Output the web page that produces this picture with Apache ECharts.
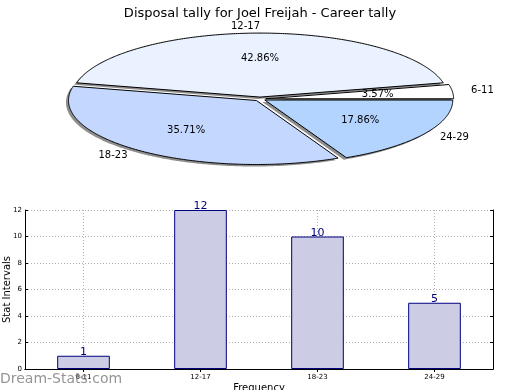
<!DOCTYPE html>
<html>
<head>
<meta charset="utf-8">
<script src="https://cdn.jsdelivr.net/npm/echarts@6/dist/echarts.min.js"></script>
<style>
html,body{margin:0;padding:0;background:#fff;}
#c{width:520px;height:390px;}
</style>
</head>
<body>
<div id="c"></div>
<script>
// ---- data ----
var titleText = 'Disposal tally for Joel Freijah - Career tally';
var categories = ['6-11', '12-17', '18-23', '24-29'];
var counts = [1, 12, 10, 5];
var sliceColors = ['#ffffff', '#eaf1ff', '#c4d8ff', '#b3d4ff'];
var yTicks = [0, 2, 4, 6, 8, 10, 12];
var xAxisTitle = 'Frequency';
var yAxisTitle = 'Stat Intervals';
var watermark = 'Dream-Stats.com';

var FONT = 'DejaVu Sans';
var chart = echarts.init(document.getElementById('c'), null, {renderer: 'canvas'});

var total = counts.reduce(function (a, b) { return a + b; }, 0);
var cum = [0];
for (var i = 0; i < counts.length; i++) cum.push(cum[i] + counts[i]);

// pie layout (elliptical, exploded, shadowed)
var PC = {cx: 260, cy: 99, rx: 188, ry: 64, explode: 0.03};

function ePoint(ox, oy, r, t) {
  return [PC.cx + ox + r * PC.rx * Math.cos(t), PC.cy + oy - r * PC.ry * Math.sin(t)];
}

function renderSlice(params, api) {
  var idx = params.dataIndex;
  var v = api.value(0);
  var a0 = cum[idx] / total * Math.PI * 2;
  var a1 = a0 + v / total * Math.PI * 2;
  var mid = (a0 + a1) / 2;
  var ox = PC.explode * PC.rx * Math.cos(mid);
  var oy = -PC.explode * PC.ry * Math.sin(mid);
  var pts = [[PC.cx + ox, PC.cy + oy]];
  var n = Math.max(8, Math.ceil((a1 - a0) / 0.01));
  for (var k = 0; k <= n; k++) {
    pts.push(ePoint(ox, oy, 1, a0 + (a1 - a0) * k / n));
  }
  var shadowPts = pts.map(function (p) { return [p[0] - 2.5, p[1] + 2]; });
  var namePos = ePoint(ox, oy, 1.1, mid);
  var pctPos = ePoint(ox, oy, 0.6, mid);
  var cosm = Math.cos(mid);
  var align = cosm > 1e-9 ? 'left' : 'right';
  var pct = (v / total * 100).toFixed(2) + '%';
  return {
    type: 'group',
    children: [
      {type: 'polygon', z2: 1, shape: {points: shadowPts},
       style: {fill: 'rgba(50,50,50,0.55)', stroke: null}},
      {type: 'polygon', z2: 10, shape: {points: pts},
       style: {fill: sliceColors[idx], stroke: '#000', lineWidth: 1}},
      {type: 'text', z2: 20, x: namePos[0], y: namePos[1],
       style: {text: categories[idx], fill: '#000', font: '10px "' + FONT + '"', align: align, verticalAlign: 'middle'}},
      {type: 'text', z2: 20, x: pctPos[0], y: pctPos[1],
       style: {text: pct, fill: '#000', font: '10px "' + FONT + '"', align: 'center', verticalAlign: 'middle'}}
    ]
  };
}

var dotted = {color: '#b0b0b0', type: [1, 2], width: 1};

var option = {
  animation: false,
  backgroundColor: '#fff',
  textStyle: {fontFamily: FONT},
  title: {
    text: titleText, left: 'center', top: 2,
    textStyle: {fontFamily: FONT, fontSize: 13, fontWeight: 'normal', color: '#000'}
  },
  grid: {left: 25, right: 27, top: 210, bottom: 21, containLabel: false, outerBoundsMode: 'none'},
  xAxis: [{
    type: 'category', data: categories, boundaryGap: true,
    name: xAxisTitle, nameLocation: 'middle', nameGap: 14,
    nameTextStyle: {fontFamily: FONT, fontSize: 10, color: '#000'},
    axisLine: {show: true, onZero: false, lineStyle: {color: '#000', width: 1}},
    axisTick: {show: true, inside: true, length: 3, alignWithLabel: true, lineStyle: {color: '#000'}},
    axisLabel: {fontFamily: FONT, fontSize: 7, color: '#000', margin: 5},
    splitLine: {show: true, alignWithLabel: true, lineStyle: dotted}
  }, {
    type: 'category', data: categories, position: 'top', boundaryGap: true,
    axisLine: {show: true, lineStyle: {color: '#000', width: 1}},
    axisTick: {show: true, inside: true, length: 3, alignWithLabel: true, lineStyle: {color: '#000'}},
    axisLabel: {show: false}, splitLine: {show: false}
  }],
  yAxis: [{
    type: 'value', min: yTicks[0], max: yTicks[yTicks.length - 1], interval: yTicks[1] - yTicks[0],
    name: yAxisTitle, nameLocation: 'middle', nameGap: 13, nameRotate: 90,
    nameMoveOverlap: false,
    nameTextStyle: {fontFamily: FONT, fontSize: 10, color: '#000'},
    axisLine: {show: true, lineStyle: {color: '#000', width: 1}},
    axisTick: {show: true, inside: true, length: 3, lineStyle: {color: '#000'}},
    axisLabel: {fontFamily: FONT, fontSize: 7, color: '#000', margin: 3},
    splitLine: {show: true, lineStyle: dotted}
  }, {
    type: 'value', position: 'right', min: yTicks[0], max: yTicks[yTicks.length - 1], interval: yTicks[1] - yTicks[0],
    axisLine: {show: true, lineStyle: {color: '#000', width: 1}},
    axisTick: {show: true, inside: true, length: 3, lineStyle: {color: '#000'}},
    axisLabel: {show: false}, splitLine: {show: false}
  }],
  series: [{
    type: 'bar', xAxisIndex: 0, yAxisIndex: 0, data: counts, barWidth: '45%',
    itemStyle: {color: '#cccce4', borderColor: '#000080', borderWidth: 1},
    label: {show: true, position: 'top', distance: -2, color: '#000080', fontFamily: FONT, fontSize: 11}
  }, {
    type: 'custom', coordinateSystem: 'none', data: counts, renderItem: renderSlice, silent: true
  }],
  graphic: [{
    type: 'text', left: 0, top: 372, z: 100,
    style: {text: watermark, fill: 'rgba(130,130,130,0.85)', font: '14px "' + FONT + '"'}
  }]
};
chart.setOption(option);
</script>
</body>
</html>
